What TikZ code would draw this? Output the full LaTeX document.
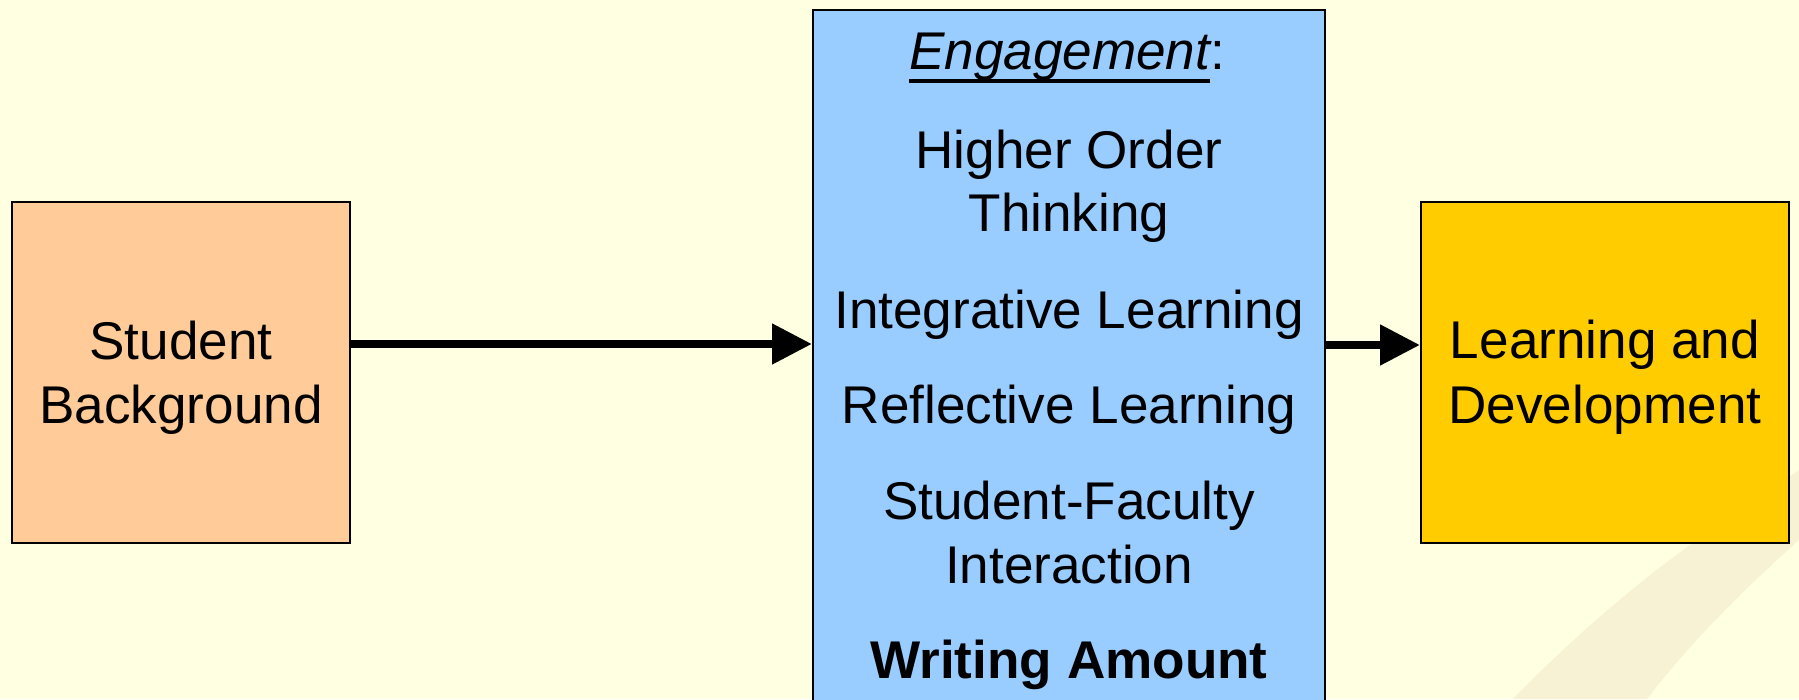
\documentclass[tikz,border=0pt]{standalone}
\usepackage{fontspec}
\setmainfont{Liberation Sans}
\usetikzlibrary{positioning, arrows.meta, calc}

\definecolor{paper}{RGB}{255,255,225}
\definecolor{swoosh}{RGB}{247,242,211}
\definecolor{studfill}{RGB}{255,204,153}
\definecolor{engfill}{RGB}{153,204,255}
\definecolor{outfill}{RGB}{255,204,0}

% Underlined word with a heavier rule
\newcommand{\uword}[1]{\setbox0\hbox{#1}\rlap{\rule[-4pt]{\wd0}{1.2pt}}\box0}

\begin{document}
\begin{tikzpicture}[
    x=0.01cm, y=-0.01cm,
    % Styles
    box/.style={ % Coloured block
        rectangle,
        draw,
        line width=0.6pt,
        inner sep=0pt
    },
    txt/.style={ % One line of text
        anchor=base,
        inner sep=0pt,
        font=\fontsize{15.1pt}{18.2pt}\selectfont
    },
    arrow/.style={
        -{Triangle[length=11.3pt, width=11.1pt]},
        line width=2.2pt
    }
]

    % Page and background
    \useasboundingbox (0,0) rectangle (1799,699);
    \fill[paper] (0,0) rectangle (1799,699);
    \clip (0,0) rectangle (1799,699);
    \fill[swoosh] (1513,699) .. controls (1570,640) and (1640,580) .. (1693,543)
        .. controls (1730,515) and (1770,490) .. (1799,470) -- (1799,540)
        .. controls (1760,575) and (1700,630) .. (1647,699) -- cycle;

    % Blocks
    \node[box, fill=studfill, minimum width=3.38cm, minimum height=3.41cm] (stud) at (181,372.5) {};
    \node[box, fill=engfill, minimum width=5.12cm, minimum height=7.2cm] (engage) at (1069,370) {};
    \node[box, fill=outfill, minimum width=3.68cm, minimum height=3.41cm] (learn) at (1605,372.5) {};

    % Text of the side blocks
    \node[txt] (studA) at (181,359) {Student};
    \node[txt] (studB) at (181,423) {Background};
    \node[txt] (learnA) at (1605,358) {Learning and};
    \node[txt] (learnB) at (1605,423) {Development};

    % Text of the engagement block
    \node[txt] (eng) at (1067,69) {\uword{\itshape Engagement}:};
    \foreach \yy/\txt [count=\i] in {168/Higher Order, 231/Thinking,
        328/Integrative Learning, 423/Reflective Learning, 519/Student-Faculty,
        583/Interaction, 678/{\textbf{Writing Amount}}} {
        \node[txt] (line\i) at (1069,\yy) {\txt};
    }

    % Arrows between blocks
    \draw[arrow] ([yshift=2.85mm]stud.east) -- ([yshift=2.85mm]stud.east -| engage.west);
    \draw[arrow] ([yshift=2.75mm]learn.west -| engage.east) -- ([yshift=2.75mm]learn.west);

\end{tikzpicture}
\end{document}
